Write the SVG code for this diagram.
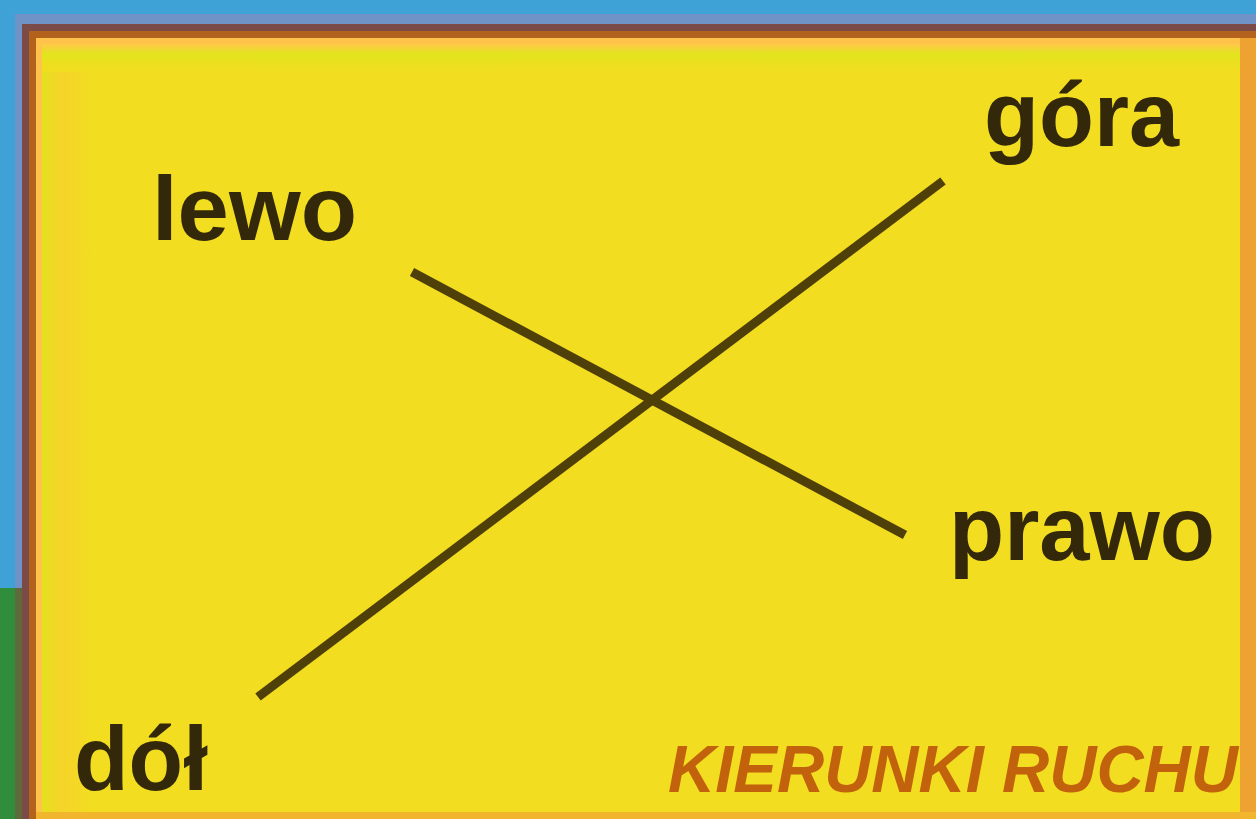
<svg xmlns="http://www.w3.org/2000/svg" width="1256" height="819" viewBox="0 0 1256 819">
  <style>
    .lbl { font-family: "Liberation Sans", Arial, sans-serif; font-weight: bold; font-size: 90px; fill: #33290a; }
    .title { font-family: "Liberation Sans", Arial, sans-serif; font-weight: bold; font-style: italic; font-size: 66px; fill: #c2620c; }
    .axis { stroke: #4f3f08; stroke-width: 9; stroke-linecap: butt; fill: none; }
  </style>
  <defs>
    <linearGradient id="topband" x1="0" y1="0" x2="0" y2="1">
      <stop offset="0" stop-color="#ffc94a"/>
      <stop offset="0.35" stop-color="#e3e41e"/>
      <stop offset="1" stop-color="#f2dd20"/>
    </linearGradient>
    <linearGradient id="leftband" x1="0" y1="0" x2="1" y2="0">
      <stop offset="0" stop-color="#e4e01e"/>
      <stop offset="0.4" stop-color="#f6d42a"/>
      <stop offset="1" stop-color="#f2dd20"/>
    </linearGradient>
  </defs>

  <!-- background and frame -->
  <rect x="0" y="0" width="1256" height="819" fill="#3ea2d6"/>
  <rect x="0" y="588" width="17" height="231" fill="#2f8d3b"/>
  <rect x="15" y="14" width="1241" height="805" fill="#6f93c6"/>
  <rect x="15" y="588" width="8" height="231" fill="#5f6a3a"/>
  <rect x="22" y="24" width="1234" height="795" fill="#7b4b47"/>
  <rect x="29" y="31" width="1227" height="788" fill="#b3621e"/>
  <rect x="36" y="38" width="1220" height="781" fill="#ffc24a"/>
  <rect x="42" y="44" width="1198" height="768" fill="#f2dd20"/>
  <rect x="42" y="44" width="1198" height="28" fill="url(#topband)"/>
  <rect x="42" y="72" width="50" height="740" fill="url(#leftband)"/>
  <rect x="1240" y="38" width="16" height="781" fill="#eea232"/>
  <rect x="36" y="812" width="1220" height="7" fill="#f1b62e"/>

  <!-- connectors -->
  <g id="connectors">
    <line class="axis" x1="412" y1="272" x2="905" y2="535"/>
    <line class="axis" x1="258" y1="697" x2="943" y2="181"/>
  </g>

  <!-- nodes -->
  <g id="node-lewo">
    <text class="lbl" x="152" y="240" textLength="205" lengthAdjust="spacingAndGlyphs">lewo</text>
  </g>
  <g id="node-gora">
    <text class="lbl" x="984" y="146" textLength="195" lengthAdjust="spacingAndGlyphs">góra</text>
  </g>
  <g id="node-prawo">
    <text class="lbl" x="949" y="560" textLength="266" lengthAdjust="spacingAndGlyphs">prawo</text>
  </g>
  <g id="node-dol">
    <text class="lbl" x="74" y="790" textLength="134" lengthAdjust="spacingAndGlyphs">dół</text>
  </g>
  <g id="title">
    <text class="title" x="668" y="792" textLength="570" lengthAdjust="spacingAndGlyphs">KIERUNKI RUCHU</text>
  </g>
</svg>
